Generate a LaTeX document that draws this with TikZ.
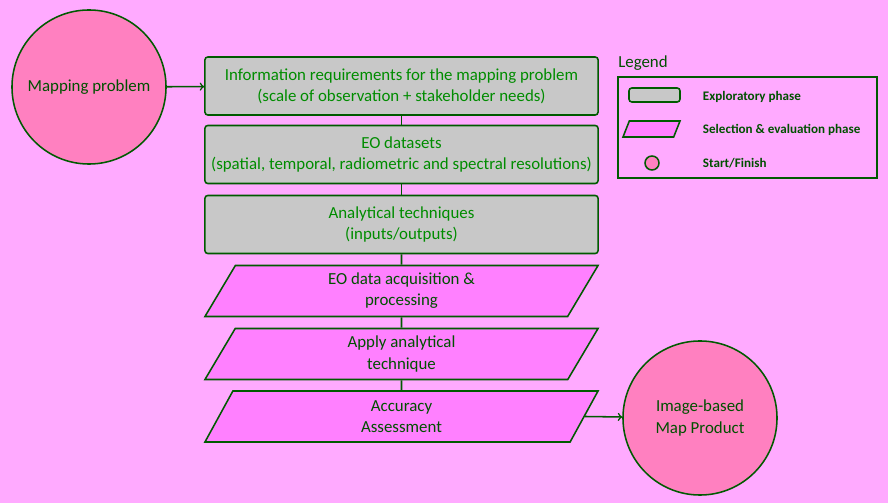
\documentclass[tikz,border=0pt]{standalone}
\usepackage{fontspec}
\setmainfont{Carlito}
\usetikzlibrary{shapes.geometric, arrows}
\usetikzlibrary{calc}
\definecolor{bgpink}{RGB}{255,170,255}
\definecolor{startpink}{RGB}{255,128,192}
\definecolor{selpink}{RGB}{255,128,255}
\definecolor{expgray}{RGB}{200,200,200}
\definecolor{edgegreen}{RGB}{0,90,0}
\definecolor{txtgreen}{RGB}{0,140,0}
\definecolor{darkgreen}{RGB}{0,80,0}

\tikzset{
    line/.style={draw=edgegreen, line width=1.1pt},
    explore/.style={line, fill=expgray, rounded corners=2pt,
        minimum width=9.825cm, minimum height=1.45cm, align=center,
        text=txtgreen, font=\fontsize{12}{15}\selectfont},
    select/.style={line, fill=selpink, trapezium,
        trapezium left angle=56, trapezium right angle=124, trapezium stretches body,
        minimum width=9.825cm, minimum height=1.275cm, align=center, inner xsep=0pt,
        text=darkgreen, font=\fontsize{12}{15}\selectfont},
    startfin/.style={line, fill=startpink, circle,
        minimum size=3.85cm, align=center, text=darkgreen,
        font=\fontsize{12}{15}\selectfont},
    legtext/.style={anchor=west, text=darkgreen, font=\fontsize{9.3}{11}\selectfont\bfseries}
}

\begin{document}
\begin{tikzpicture}[x=0.025cm, y=-0.025cm]
    % Background
    \fill[bgpink] (0,0) rectangle (888,503);
    \useasboundingbox (0,0) rectangle (888,503);

    % Start
    \node[startfin] (mapprob) at (89,87) {Mapping problem};

    % Exploratory phase
    \node[explore] (inforeq) at (401.5,86) {Information requirements for the mapping problem\\(scale of observation + stakeholder needs)};
    \node[explore] (eodata) at (401.5,154.5) {EO datasets\\(spatial, temporal, radiometric and spectral resolutions)};
    \node[explore] (anatech) at (401.5,224.5) {Analytical techniques\\(inputs/outputs)};

    % Selection & evaluation phase
    \node[select] (acquis) at (401.5,291) {EO data acquisition \&\\processing};
    \node[select] (applytech) at (401.5,354) {Apply analytical\\technique};
    \node[select] (accuracy) at (401.5,416.5) {Accuracy\\Assessment};

    % Finish
    \node[startfin] (mapprod) at (700,418) {Image-based\\Map Product};

    % Connectors
    \draw[line, ->] (mapprob) -- (inforeq);
    \draw[line] (inforeq) -- (eodata);
    \draw[line] (eodata) -- (anatech);
    \draw[line] (anatech) -- (acquis);
    \draw[line] (acquis) -- (applytech);
    \draw[line] (applytech) -- (accuracy);
    \draw[line, ->] (accuracy.east) -- (mapprod);

    % Legend
    \node[anchor=west, text=darkgreen, font=\fontsize{12}{14}\selectfont, inner xsep=0pt] (legtitle) at (618,63) {Legend};
    \draw[line] (618,77) rectangle (877,178);
    \node[line, fill=expgray, rounded corners=2pt, minimum width=1.275cm, minimum height=0.35cm] (legexp) at (654.5,95) {};
    \node[line, fill=selpink, trapezium, trapezium left angle=56, trapezium right angle=124,
        trapezium stretches body, minimum width=1.425cm, minimum height=0.4cm, inner xsep=0pt] (legsel) at (651.5,129) {};
    \node[line, fill=startpink, circle, minimum size=0.35cm, inner sep=0pt] (legstart) at (652,163) {};
    \node[legtext] (legexptxt) at (698,97) {Exploratory phase};
    \node[legtext] (legseltxt) at (698,130) {Selection \& evaluation phase};
    \node[legtext] (legstarttxt) at (698,163) {Start/Finish};

\end{tikzpicture}
\end{document}
